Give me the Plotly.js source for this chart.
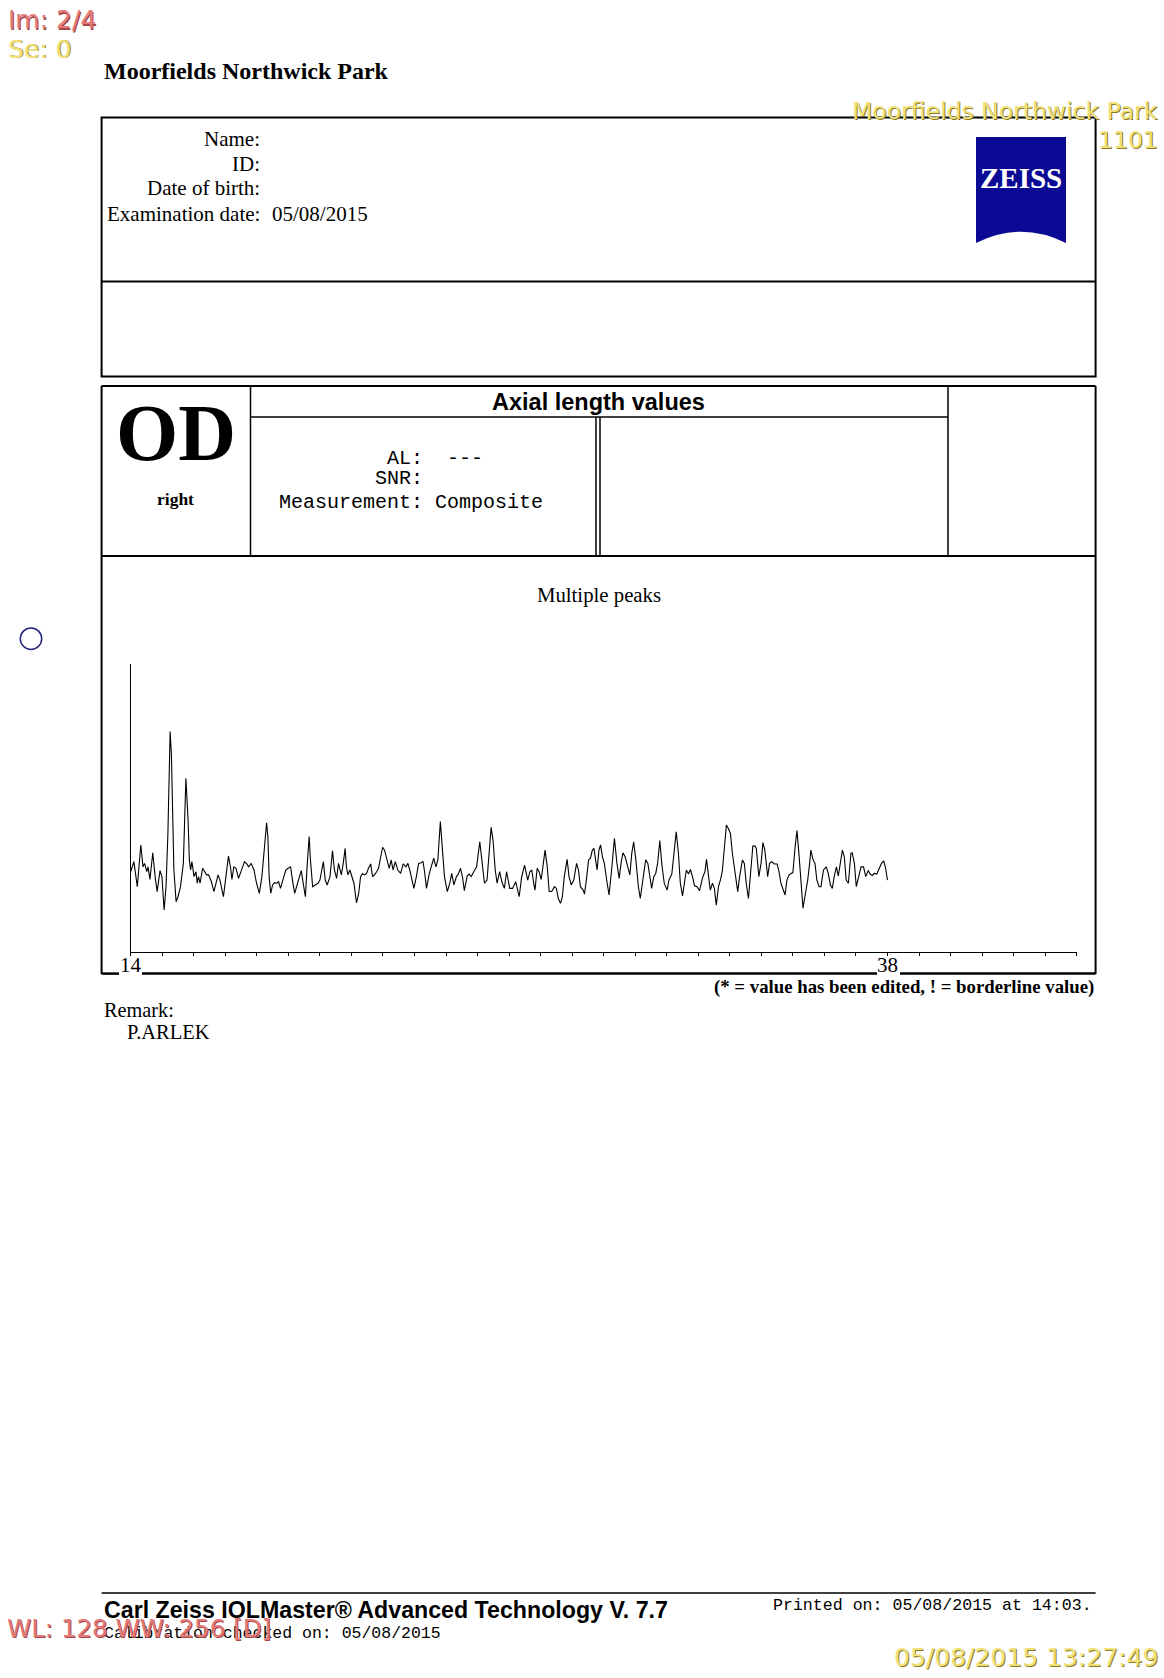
<!DOCTYPE html>
<html>
<head>
<meta charset="utf-8">
<script src="https://cdn.plot.ly/plotly-3.0.1.min.js"></script>
<style>html,body{margin:0;padding:0;background:#fff;}#chart{width:1164px;height:1678px;}</style>
</head>
<body>
<div id="chart"></div>
<script>
// ---- data read from the A-scan (depth in mm, relative amplitude 0-100) ----
const depth = [14.00,14.10,14.21,14.32,14.39,14.44,14.51,14.55,14.61,14.70,
14.78,14.84,14.93,14.99,15.06,15.12,15.18,15.25,15.29,15.33,
15.37,15.44,15.50,15.58,15.67,15.75,15.82,15.86,15.90,15.94,
16.01,16.07,16.11,16.15,16.20,16.28,16.34,16.41,16.47,16.56,
16.64,16.72,16.77,16.83,16.94,17.02,17.10,17.17,17.21,17.27,
17.34,17.42,17.51,17.61,17.68,17.74,17.82,17.91,17.99,18.08,
18.16,18.25,18.31,18.35,18.39,18.44,18.50,18.56,18.63,18.69,
18.75,18.84,18.92,18.99,19.07,19.13,19.20,19.32,19.41,19.47,
19.54,19.60,19.66,19.70,19.77,19.85,19.94,20.00,20.11,20.17,
20.23,20.32,20.40,20.46,20.53,20.59,20.68,20.74,20.80,20.84,
20.89,20.95,21.01,21.08,21.16,21.23,21.29,21.35,21.42,21.48,
21.54,21.61,21.67,21.73,21.80,21.86,21.92,21.99,22.05,22.11,
22.20,22.26,22.32,22.39,22.47,22.56,22.64,22.73,22.79,22.85,
22.92,22.98,23.06,23.13,23.21,23.27,23.32,23.38,23.47,23.55,
23.61,23.68,23.74,23.82,23.89,23.95,24.04,24.12,24.18,24.25,
24.33,24.39,24.46,24.52,24.58,24.67,24.73,24.80,24.88,24.97,
25.07,25.13,25.22,25.30,25.37,25.43,25.49,25.56,25.62,25.70,
25.77,25.85,25.92,25.98,
26.02,26.11,26.21,26.32,26.40,26.49,26.55,26.59,26.66,26.72,
26.78,26.82,26.89,26.95,27.02,27.08,27.14,27.21,27.27,27.35,
27.44,27.50,27.56,27.63,27.69,27.75,27.84,27.90,27.97,28.05,
28.14,28.20,28.26,28.35,28.39,28.45,28.52,28.58,28.64,28.69,
28.75,28.79,28.85,28.90,28.96,29.02,29.11,29.17,29.26,29.34,
29.42,29.49,29.55,29.61,29.68,29.74,29.83,29.89,29.95,30.02,
30.10,30.16,30.25,30.33,30.40,30.46,30.52,30.59,30.65,30.71,
30.78,30.84,30.92,31.01,31.07,31.16,31.24,31.30,31.37,31.43,
31.50,31.56,31.62,31.69,31.75,31.83,31.88,31.96,32.04,32.13,
32.21,32.26,32.32,32.38,32.45,32.51,32.57,32.64,32.70,32.76,
32.83,32.89,32.95,33.02,33.08,33.16,33.25,33.31,33.40,33.46,
33.52,33.59,33.65,33.73,33.80,33.84,33.92,33.99,34.05,34.11,
34.20,34.26,34.33,34.41,34.50,34.56,34.62,34.71,34.75,34.81,
34.88,34.94,35.00,35.07,35.13,35.19,35.26,35.32,35.38,35.47,
35.53,35.57,35.64,35.70,35.76,35.83,35.89,35.97,36.06,36.12,
36.19,36.25,36.31,36.38,36.44,36.50,36.57,36.63,36.69,36.76,
36.84,36.88,36.95,37.01,37.07,37.16,37.24,37.31,37.39,37.45,
37.52,37.58,37.66,37.75,37.81,37.88,37.94,38.00];

const amplitude = [27.8,31.3,22.6,37.1,29.5,30.7,27.8,29.5,25.1,34.4,
25.5,20.9,28.2,26.1,14.5,22.6,41.1,76.5,68.9,45.8,
28.4,17.4,19.1,22.6,30.7,60.3,45.8,31.9,28.4,31.3,
26.1,27.8,23.8,26.1,23.8,29.0,27.8,26.7,26.7,24.3,
20.9,24.9,26.7,24.9,19.1,26.1,33.2,29.0,25.1,29.5,
29.0,25.5,28.4,31.3,30.5,29.5,30.7,28.4,23.8,20.3,
26.1,36.5,44.8,40.0,26.1,20.3,23.2,24.0,23.8,24.3,
22.0,25.5,28.4,29.0,29.5,24.9,20.3,24.9,28.2,23.8,
19.1,30.7,40.0,31.9,22.6,23.2,23.8,24.9,31.3,24.9,
23.2,26.1,35.1,28.4,25.5,30.7,26.7,30.7,35.9,29.5,
26.7,28.4,26.1,23.8,17.0,20.3,26.1,27.2,26.7,27.2,
29.0,30.5,26.1,26.7,27.8,29.0,32.5,36.3,35.3,32.5,
29.0,31.9,28.4,31.3,28.4,27.2,30.5,29.5,30.7,28.4,
25.1,22.0,26.1,30.7,30.9,31.3,27.8,22.0,27.2,30.7,
32.5,29.5,31.9,45.2,36.5,26.1,20.9,23.8,27.2,23.2,
26.1,27.0,29.0,26.1,21.2,26.3,27.0,26.1,27.8,29.5,
38.2,31.9,23.8,24.9,34.2,43.2,38.8,28.4,23.8,27.8,
24.3,22.0,27.8,23.8,
22.0,22.0,24.3,19.1,26.1,30.1,26.1,24.9,27.8,28.4,
23.8,21.4,29.0,27.8,25.1,30.7,35.3,29.5,20.9,20.9,
22.6,22.0,18.5,16.8,19.1,26.1,32.1,26.1,23.2,24.9,
30.7,28.4,22.6,21.4,20.0,24.9,31.9,32.5,35.3,35.9,
31.9,28.4,35.3,37.1,33.0,30.7,23.8,19.7,29.5,39.4,
30.7,25.5,30.7,34.4,33.0,30.7,26.7,34.2,38.2,31.9,
22.6,18.5,24.9,31.9,30.7,26.1,22.0,26.1,27.2,30.7,
38.6,30.7,23.8,21.4,24.9,27.0,36.5,41.7,34.2,23.8,
19.4,24.9,28.4,27.0,28.6,25.5,22.9,22.6,21.2,25.5,
27.8,32.1,26.1,21.4,23.8,22.0,16.2,22.6,24.9,27.8,
36.5,44.0,42.9,41.1,34.2,28.4,20.9,26.1,31.9,30.7,
23.8,18.5,26.1,36.7,36.7,35.9,26.1,30.7,37.9,35.3,
26.1,30.7,31.3,30.5,30.5,27.8,23.8,20.3,19.7,24.9,
26.7,27.2,27.5,36.5,42.1,34.2,22.6,15.1,19.1,24.9,
30.7,35.3,31.9,30.7,24.9,22.6,22.6,28.4,29.5,27.2,
23.2,22.0,26.1,29.5,26.3,30.7,35.3,33.0,24.9,23.8,
34.2,34.4,30.7,22.6,25.5,29.5,29.5,26.1,28.2,27.0,
26.5,27.2,27.0,29.5,30.7,31.6,29.0,24.9];

const tickValues = [14,15,16,17,18,19,20,21,22,23,24,25,26,27,28,29,30,31,32,33,34,35,36,37,38,39,40,41,42,43,44];
const labelledTicks = [14, 38];

// ---- page texts ----
const hospital = 'Moorfields Northwick Park';
const fieldLabels = ['Name:', 'ID:', 'Date of birth:', 'Examination date:'];
const examDate = '05/08/2015';
const eyeCode = 'OD';
const eyeSide = 'right';
const panelTitle = 'Axial length values';
const resultLines = ['\u00a0\u00a0\u00a0\u00a0\u00a0\u00a0\u00a0\u00a0\u00a0AL:\u00a0\u00a0---',
                     '\u00a0\u00a0\u00a0\u00a0\u00a0\u00a0\u00a0\u00a0SNR:',
                     'Measurement:\u00a0Composite'];
const chartTitle = 'Multiple peaks';
const legendNote = '(* = value has been edited, ! = borderline value)';
const remarkLabel = 'Remark:';
const remarkText = 'P.ARLEK';
const footerTitle = 'Carl Zeiss IOLMaster\u00ae Advanced Technology V. 7.7';
const footerCalib = 'Calibration checked on: 05/08/2015';
const footerPrinted = 'Printed on: 05/08/2015 at 14:03.';
const viewerIm = 'Im: 2/4';
const viewerSe = 'Se: 0';
const viewerWL = 'WL: 128 WW: 256 [D]';
const viewerSite = 'Moorfields Northwick Park';
const viewerCode = '1101';
const viewerStamp = '05/08/2015 13:27:49';

// ---- layout helpers (page pixels -> paper) ----
const W = 1164, H = 1678;
const px = x => x / W;
const py = y => 1 - y / H;
const SERIF = '"Liberation Serif", "Times New Roman", serif';
const SANS = '"Liberation Sans", Arial, sans-serif';
const MONO = '"Liberation Mono", "Courier New", monospace';
const VIEW = '"DejaVu Sans", Verdana, sans-serif';

const shapes = [];
const annotations = [];
function line(x0, y0, x1, y1, w) {
  shapes.push({type: 'line', xref: 'paper', yref: 'paper', x0: px(x0), y0: py(y0), x1: px(x1), y1: py(y1),
    line: {color: '#000', width: w || 1.5}});
}
function rect(x0, y0, x1, y1, w) {
  shapes.push({type: 'rect', xref: 'paper', yref: 'paper', x0: px(x0), y0: py(y0), x1: px(x1), y1: py(y1),
    line: {color: '#000', width: w || 2}, fillcolor: 'rgba(0,0,0,0)'});
}
function text(x, y, str, size, family, color, anchor, extra) {
  annotations.push(Object.assign({xref: 'paper', yref: 'paper', x: px(x), y: py(y), text: str,
    showarrow: false, xanchor: anchor || 'left', yanchor: 'middle',
    font: {size: size, family: family, color: color || '#000'}}, extra || {}));
}
function glowText(x, y, str, size, family, color, shadow, anchor) {
  text(x + 1, y + 1, str, size, family, shadow, anchor);
  text(x, y, str, size, family, color, anchor);
}

// header box
rect(101.6, 117.5, 1095.6, 376.6, 2);
line(101.6, 281.4, 1095.6, 281.4, 2);
// measurement box
line(101.6, 386, 1095.6, 386, 2);
line(101.6, 386, 101.6, 974, 2);
line(1095.6, 386, 1095.6, 974, 2);
line(101.6, 556, 1095.6, 556, 2);
line(250.5, 386, 250.5, 556, 1.5);
line(948, 386, 948, 556, 1.5);
line(250.5, 417, 948, 417, 1.5);
line(596, 417, 596, 556, 1.5);
line(600, 417, 600, 556, 1.5);
// bottom border, broken by the depth labels
line(101.6, 973.6, 119, 973.6, 2.5);
line(142, 973.6, 877, 973.6, 2.5);
line(900, 973.6, 1095.6, 973.6, 2.5);
// footer rule
line(101.6, 1593, 1095.6, 1593, 1.5);

// ZEISS logo
const lp = [[976, 137], [1066, 137], [1066, 243], [1021, 220.4], [976, 243]];
shapes.push({type: 'path', xref: 'paper', yref: 'paper',
  path: `M ${px(lp[0][0])} ${py(lp[0][1])} L ${px(lp[1][0])} ${py(lp[1][1])} L ${px(lp[2][0])} ${py(lp[2][1])} Q ${px(lp[3][0])} ${py(lp[3][1])} ${px(lp[4][0])} ${py(lp[4][1])} Z`,
  fillcolor: '#0a0a94', line: {width: 0}});
text(1021, 178, '<b>ZEISS</b>', 29, SERIF, '#ffffff', 'center');

// viewer marker circle
shapes.push({type: 'circle', xref: 'paper', yref: 'paper', x0: px(20.3), y0: py(628), x1: px(41.7), y1: py(649.4),
  line: {color: '#22227a', width: 1.5}});

// texts
text(102, 71, '<b>' + hospital + '</b>', 24, SERIF);
const labelY = [139, 164, 188, 214];
fieldLabels.forEach((l, i) => text(262, labelY[i], l, 21, SERIF, '#000', 'right'));
text(270, 214, examDate, 21, SERIF);
text(176, 433, '<b>' + eyeCode + '</b>', 80, SERIF, '#000', 'center');
text(175, 499, '<b>' + eyeSide + '</b>', 17.5, SERIF, '#000', 'center');
text(598, 402, '<b>' + panelTitle + '</b>', 23.5, SANS, '#000', 'center');
const resY = [458, 479, 502];
resultLines.forEach((l, i) => text(277, resY[i], l, 20, MONO));
text(1096, 987.5, '<b>' + legendNote + '</b>', 18.8, SERIF, '#000', 'right');
text(101.6, 1010, remarkLabel, 20.3, SERIF);
text(124.5, 1032, remarkText, 20.5, SERIF);
text(101.6, 1610, '<b>' + footerTitle + '</b>', 23.2, SANS);
text(101.6, 1633, footerCalib, 16.5, MONO);
text(1094, 1605, footerPrinted, 16.6, MONO, '#000', 'right');

// depth labels on the axis (positioned in data units)
labelledTicks.forEach(v => annotations.push({xref: 'x', yref: 'paper', x: v, y: py(964.5), text: String(v),
  showarrow: false, xanchor: 'center', yanchor: 'middle', font: {family: SERIF, size: 21, color: '#000'}}));

// viewer overlays
glowText(6, 20, viewerIm, 25, VIEW, '#e27a7a', '#a64848');
glowText(6, 49, viewerSe, 25, VIEW, '#f0e07a', '#978528');
glowText(1160, 111, viewerSite, 23.5, VIEW, '#f0e07a', '#8a7a20', 'right');
glowText(1160, 140, viewerCode, 23.5, VIEW, '#f0e07a', '#8a7a20', 'right');
glowText(5, 1628, viewerWL, 24.5, VIEW, '#e27a7a', '#a64848');
glowText(1160, 1657, viewerStamp, 25, VIEW, '#f0e07a', '#8a7a20', 'right');

const trace = {
  x: depth, y: amplitude, type: 'scatter', mode: 'lines',
  line: {color: '#000', width: 1.1, shape: 'linear'},
  hoverinfo: 'skip', showlegend: false
};

const layout = {
  width: W, height: H, autosize: false,
  margin: {l: 0, r: 0, t: 0, b: 0, pad: 0},
  paper_bgcolor: '#fff', plot_bgcolor: '#fff',
  showlegend: false,
  title: {text: chartTitle, font: {family: SERIF, size: 20.8, color: '#000'},
    xref: 'paper', yref: 'paper', x: px(599), xanchor: 'center', y: py(595), yanchor: 'middle'},
  xaxis: {domain: [px(130.7), px(1076.7)], range: [14, 44], showgrid: false, zeroline: false,
    showline: true, linecolor: '#000', linewidth: 1, ticks: 'outside', ticklen: 3, tickwidth: 1, tickcolor: '#000',
    tickmode: 'array', tickvals: tickValues, showticklabels: false, fixedrange: true},
  yaxis: {domain: [py(951.7), py(664)], range: [0, 100], showgrid: false, zeroline: false,
    showline: true, linecolor: '#000', linewidth: 1, ticks: '', showticklabels: false, fixedrange: true},
  shapes: shapes,
  annotations: annotations
};

Plotly.newPlot('chart', [trace], layout, {displayModeBar: false, staticPlot: true});
</script>
</body>
</html>
